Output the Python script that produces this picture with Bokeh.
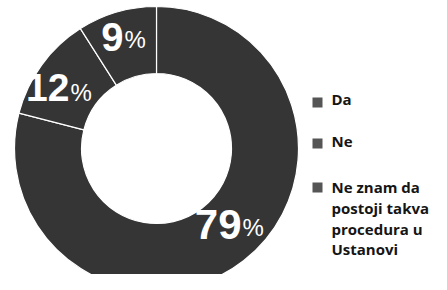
import math
from bokeh.plotting import figure
from bokeh.models import Range1d, ColumnDataSource
from bokeh.core.properties import value
from bokeh.embed import file_html
from bokeh.resources import INLINE

# ---- data ----
categories = ["Da", "Ne", "Ne znam da\npostoji takva\nprocedura u\nUstanovi"]
values = [79, 12, 9]
pct_labels = ["79", "12", "9"]

# ---- figure (1 data unit = 1 px) ----
W, H = 431, 274
p = figure(width=W, height=H, output_backend="svg", toolbar_location=None,
           x_range=Range1d(0, W), y_range=Range1d(0, H), min_border=0)
p.axis.visible = False
p.grid.visible = False
p.outline_line_color = None


def yy(top_px):
    """convert a distance from the top edge to a y data value"""
    return [H - t for t in top_px]


cx, cy = 156, H - 148
r_out, r_in = 142, 75

total = sum(values)
starts, ends = [], []
acc = 0
for v in values:
    # slices run clockwise from 12 o'clock
    starts.append(math.pi / 2 - 2 * math.pi * (acc + v) / total)
    ends.append(math.pi / 2 - 2 * math.pi * acc / total)
    acc += v

src = ColumnDataSource(dict(start=starts, end=ends, x=[cx] * 3, y=[cy] * 3))
p.annular_wedge(x="x", y="y", inner_radius=r_in, outer_radius=r_out,
                start_angle="start", end_angle="end", direction="anticlock",
                source=src, fill_color="#353535", line_color="white",
                line_width=1.2)

# ---- percentage labels ----
lab_x = [241, 69, 123]
lsrc = ColumnDataSource(dict(x=lab_x, y=yy([209, 73.5, 22.5]), t=pct_labels,
                             s=["42px", "39px", "40px"],
                             px=[x + 1 for x in lab_x],
                             py=yy([213.5, 78.5, 25.5]),
                             pt=["%"] * 3))
p.text(x="x", y="y", text="t", text_font_size="s", source=lsrc,
       text_align="right", text_baseline="top",
       text_font=value("Liberation Sans"), text_font_style="bold",
       text_color="white")
p.text(x="px", y="py", text="pt", source=lsrc, text_align="left",
       text_baseline="top", text_font=value("Liberation Sans"),
       text_font_size="24px", text_color="white")

# ---- legend ----
p.rect(x=[317] * 3, y=yy([102, 143, 187]), width=10, height=10,
       fill_color="#555555", line_color=None)
p.text(x=[331] * 3, y=yy([88.5, 130.5, 176.5]), text=categories,
       text_align="left", text_baseline="top",
       text_font=value("Open Sans"), text_font_style="bold",
       text_font_size="15px", text_color="#151515", text_line_height=1.04)

open("out.html", "w").write(file_html(p, INLINE))
